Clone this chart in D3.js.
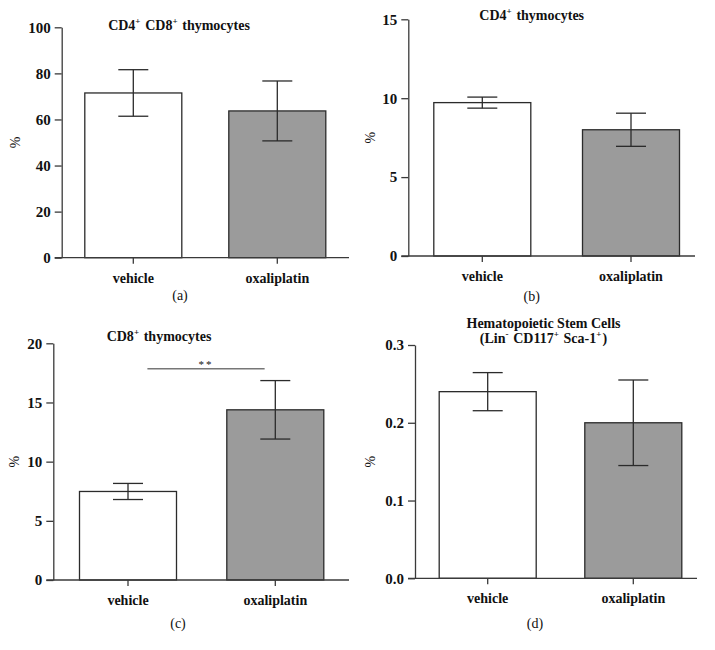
<!DOCTYPE html>
<html>
<head>
<meta charset="utf-8">
<script src="https://cdn.jsdelivr.net/npm/d3@7"></script>
<style>
  html, body { margin: 0; padding: 0; background: #fff; }
  svg { display: block; }
  text { font-family: "Liberation Serif", "DejaVu Serif", serif; fill: #111; }
</style>
</head>
<body>
<svg id="chart" width="715" height="650"></svg>
<script>
// ---------- data ----------
const categories = ["vehicle", "oxaliplatin"];

const cd4cd8Means = [71.5, 63.7];
const cd4cd8Errors = [10.1, 13.0];
const cd4cd8Ticks = [0, 20, 40, 60, 80, 100];

const cd4Means = [9.72, 8.0];
const cd4Errors = [0.35, 1.05];
const cd4Ticks = [0, 5, 10, 15];

const cd8Means = [7.48, 14.38];
const cd8Errors = [0.68, 2.47];
const cd8Ticks = [0, 5, 10, 15, 20];
const cd8SignificanceLevel = 17.85;
const cd8SignificanceLabel = "**";

const hscMeans = [0.24, 0.20];
const hscErrors = [0.0245, 0.055];
const hscTicks = [0.0, 0.1, 0.2, 0.3];

const panelLetters = ["(a)", "(b)", "(c)", "(d)"];

// ---------- layout ----------
const svg = d3.select("#chart");
const barFills = ["#ffffff", "#9b9b9b"];
const ink = "#2b2b2b";

const panels = [
  { means: cd4cd8Means, errors: cd4cd8Errors, ticks: cd4cd8Ticks, fmt: d3.format("d"),
    axisX: 61.7, yTop: 27.3, yBottom: 257.7, centers: [133.3, 277.3], axisRight: 349,
    pctX: 15, letterX: 180, letterY: 300,
    title: [[["CD4", false], ["+", true], [" CD8", false], ["+", true], [" thymocytes", false]]],
    titleX: 179, titleY: [30] },
  { means: cd4Means, errors: cd4Errors, ticks: cd4Ticks, fmt: d3.format("d"),
    axisX: 408.3, yTop: 19.3, yBottom: 256, centers: [482.3, 631], axisRight: 695,
    pctX: 370, letterX: 531.7, letterY: 301,
    title: [[["CD4", false], ["+", true], [" thymocytes", false]]],
    titleX: 531.7, titleY: [20] },
  { means: cd8Means, errors: cd8Errors, ticks: cd8Ticks, fmt: d3.format("d"),
    axisX: 53.3, yTop: 343.3, yBottom: 580, centers: [128, 275.3], axisRight: 349,
    pctX: 13.5, letterX: 178, letterY: 628,
    title: [[["CD8", false], ["+", true], [" thymocytes", false]]],
    titleX: 159, titleY: [340.5],
    sig: { level: cd8SignificanceLevel, label: cd8SignificanceLabel, f0: 0.70, f1: 0.39 } },
  { means: hscMeans, errors: hscErrors, ticks: hscTicks, fmt: d3.format(".1f"),
    axisX: 415, yTop: 345, yBottom: 578.3, centers: [487.7, 633.3], axisRight: 697,
    pctX: 370, letterX: 535, letterY: 628,
    title: [[["Hematopoietic Stem Cells", false]],
            [["(Lin", false], ["-", true], [" CD117", false], ["+", true], [" Sca-1", false], ["+", true], [")", false]]],
    titleX: 543.5, titleY: [327.5, 343] }
];

const barWidth = 97;
const capWidth = 30;

panels.forEach((p, pi) => {
  const g = svg.append("g");
  const step = p.centers[1] - p.centers[0];
  const x = d3.scaleBand()
    .domain(categories)
    .range([p.centers[0] - step / 2, p.centers[1] + step / 2])
    .paddingInner(1 - barWidth / step)
    .paddingOuter((1 - barWidth / step) / 2);
  const y = d3.scaleLinear()
    .domain([p.ticks[0], p.ticks[p.ticks.length - 1]])
    .range([p.yBottom, p.yTop]);

  // bars
  g.selectAll("rect.bar").data(categories).join("rect")
    .attr("x", d => x(d))
    .attr("y", (d, i) => y(p.means[i]))
    .attr("width", x.bandwidth())
    .attr("height", (d, i) => y(0) - y(p.means[i]))
    .attr("fill", (d, i) => barFills[i])
    .attr("stroke", ink)
    .attr("stroke-width", 1.3);

  // error bars
  categories.forEach((c, i) => {
    const cx = x(c) + x.bandwidth() / 2;
    const hi = y(p.means[i] + p.errors[i]);
    const lo = y(p.means[i] - p.errors[i]);
    g.append("line").attr("x1", cx).attr("x2", cx).attr("y1", hi).attr("y2", lo)
      .attr("stroke", ink).attr("stroke-width", 1.3);
    [hi, lo].forEach(yy => {
      g.append("line").attr("x1", cx - capWidth / 2).attr("x2", cx + capWidth / 2)
        .attr("y1", yy).attr("y2", yy).attr("stroke", ink).attr("stroke-width", 1.3);
    });
  });

  // y axis
  const yAxis = g.append("g").attr("transform", `translate(${p.axisX},0)`)
    .call(d3.axisLeft(y).tickValues(p.ticks).tickFormat(p.fmt).tickSize(7).tickPadding(4).tickSizeOuter(0));
  yAxis.select(".domain").attr("stroke", "#3a3a3a").attr("stroke-width", 1.3);
  yAxis.selectAll(".tick line").attr("stroke", "#3a3a3a").attr("stroke-width", 1.3);
  yAxis.selectAll(".tick text")
    .style("font-family", "'Liberation Serif', serif").style("font-weight", "bold")
    .style("font-size", "15px").attr("fill", "#111");

  // x axis
  const xAxisG = g.append("g").attr("transform", `translate(0,${p.yBottom})`);
  xAxisG.append("line").attr("x1", p.axisX - 7).attr("x2", p.axisRight)
    .attr("y1", 0).attr("y2", 0).attr("stroke", "#3a3a3a").attr("stroke-width", 1.3);
  const xa = d3.axisBottom(x).tickSize(6).tickPadding(9).tickSizeOuter(0);
  const xAxis = xAxisG.append("g").call(xa);
  xAxis.select(".domain").remove();
  xAxis.selectAll(".tick line").attr("stroke", "#3a3a3a").attr("stroke-width", 1.3);
  xAxis.selectAll(".tick text")
    .style("font-family", "'Liberation Serif', serif").style("font-weight", "bold")
    .style("font-size", "14px").attr("fill", "#111");

  // % label
  const midY = (p.yTop + p.yBottom) / 2;
  g.append("text")
    .attr("transform", `translate(${p.pctX + 5},${midY}) rotate(-90)`)
    .attr("text-anchor", "middle")
    .style("font-size", "14px")
    .text("%");

  // title
  p.title.forEach((line, li) => {
    const t = g.append("text")
      .attr("x", p.titleX).attr("y", p.titleY[li])
      .attr("text-anchor", "middle")
      .style("font-weight", "bold").style("font-size", "14px");
    line.forEach(([s, sup]) => {
      if (sup) {
        t.append("tspan").attr("dy", -6).style("font-size", "9px").text(s);
        t.append("tspan").attr("dy", 6).style("font-size", "14px").text("\u200A");
      } else {
        t.append("tspan").text(s);
      }
    });
  });

  // significance
  if (p.sig) {
    const ys = y(p.sig.level);
    const x0 = x(categories[0]) + x.bandwidth() * p.sig.f0;
    const x1 = x(categories[1]) + x.bandwidth() * p.sig.f1;
    g.append("line").attr("x1", x0).attr("x2", x1).attr("y1", ys).attr("y2", ys)
      .attr("stroke", "#777").attr("stroke-width", 1.3);
    g.append("text").attr("x", (x0 + x1) / 2).attr("y", ys - 1)
      .attr("text-anchor", "middle").style("font-size", "11px").attr("fill", "#555")
      .style("letter-spacing", "2px")
      .text(p.sig.label);
  }

  // panel letter
  g.append("text").attr("x", p.letterX).attr("y", p.letterY)
    .attr("text-anchor", "middle").style("font-size", "14px")
    .text(panelLetters[pi]);
});
</script>
</body>
</html>
